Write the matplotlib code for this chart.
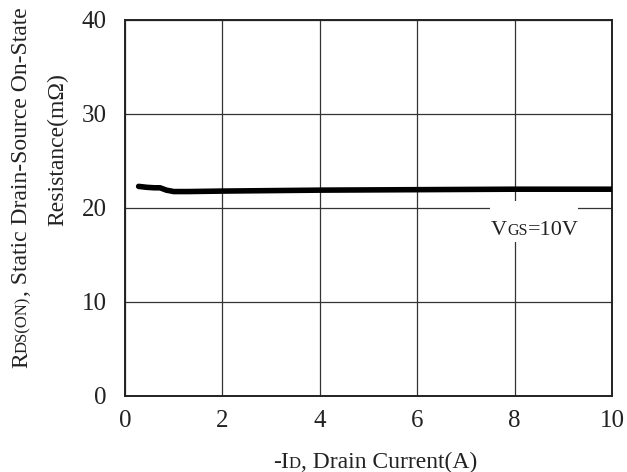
import matplotlib

matplotlib.use("Agg")
import matplotlib.pyplot as plt
from matplotlib.patches import Rectangle

# R_DS(on) vs drain current, VGS = 10V
drain_current = [0.28, 0.45, 0.6, 0.72, 0.85, 1.0, 1.3, 2, 3, 4, 6, 8, 10]
rds_on = [22.3, 22.2, 22.15, 22.15, 21.9, 21.75, 21.75, 21.8, 21.85, 21.9, 21.95, 22.0, 22.0]

x_ticks = [0, 2, 4, 6, 8, 10]
y_ticks = [0, 10, 20, 30, 40]

W, H = 627, 472
BIG, SMALL = 17, 12

plt.rcParams["font.family"] = ["Liberation Serif", "DejaVu Serif"]

fig = plt.figure(figsize=(W / 100, H / 100), dpi=100)
ax = fig.add_axes([125 / W, 1 - 396 / H, 487 / W, 376 / H])

ax.plot(drain_current, rds_on, color="black", lw=4, solid_capstyle="round", zorder=4)

ax.set_xlim(0, 10)
ax.set_ylim(0, 40)
ax.set_xticks(x_ticks)
ax.set_yticks(y_ticks)
ax.tick_params(length=0, labelsize=18, labelcolor="#222222")
ax.tick_params(axis="y", pad=13)
ax.tick_params(axis="x", pad=10)
ax.grid(True, color="#333333", lw=0.9)
ax.set_axisbelow(True)
for sp in ax.spines.values():
    sp.set_color("#222222")
    sp.set_linewidth(1.4)

# white patch behind the curve label
ax.add_patch(Rectangle((7.5, 16.4), 1.8, 4.3, facecolor="white", edgecolor="none", zorder=2))


def rich_text(cx, cy, parts, rotation=0):
    """Place text pieces of mixed size one after another, centred on (cx, cy) px."""
    renderer = fig.canvas.get_renderer()
    widths = []
    for s, size in parts:
        t = fig.text(0, 0, s, fontsize=size)
        widths.append(t.get_window_extent(renderer).width)
        t.remove()
    pos = -sum(widths) / 2
    for (s, size), w in zip(parts, widths):
        if rotation == 0:
            fig.text((cx + pos) / W, 1 - cy / H, s, fontsize=size, color="#222222",
                     ha="left", va="baseline", zorder=5)
        else:
            fig.text(cx / W, 1 - (cy - pos) / H, s, fontsize=size, color="#222222",
                     rotation=90, rotation_mode="anchor", ha="left", va="baseline")
        pos += w


rich_text(27, 188, [("R", BIG), ("DS(ON)", SMALL), (", Static Drain-Source On-State", BIG)], rotation=90)
rich_text(63, 150, [("Resistance(mΩ)", BIG)], rotation=90)
rich_text(375, 468, [("-I", BIG), ("D", SMALL), (", Drain Current(A)", BIG)])
rich_text(535, 235, [("V", 16), ("GS", 11.5), ("=10V", 16)])

fig.savefig("out.png", dpi=100)
